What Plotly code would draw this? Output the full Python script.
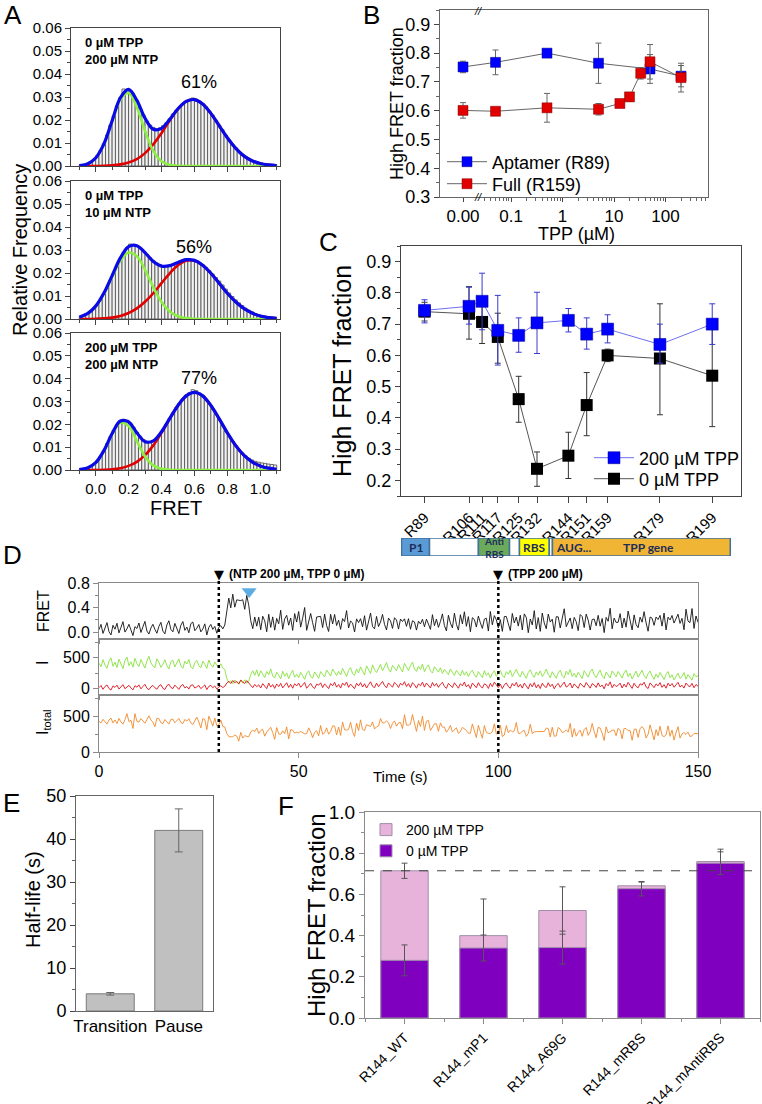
import plotly.graph_objects as go

W, H = 762, 1104
FONT = "Liberation Sans, Arial, sans-serif"
AX = "#444444"

# ------------------------------------------------------------------ Panel A data
a_cond = ["0 µM TPP<br>200 µM NTP", "0 µM TPP<br>10 µM NTP", "200 µM TPP<br>200 µM NTP"]
a_pct = ["61%", "56%", "77%"]
a_pct_pos = [(0.63, 0.0365), (0.60, 0.0313), (0.63, 0.0403)]
hist_x = [round(-0.09 + 0.02 * i, 2) for i in range(60)]
fit_x = [round(-0.10 + 0.05 * i, 2) for i in range(25)]

hist_a1 = [0.0005, 0.0008, 0.0012, 0.0018, 0.0028, 0.0045, 0.0068, 0.0098, 0.0135, 0.0178,
           0.0218, 0.0262, 0.0298, 0.0335, 0.0332, 0.0322, 0.0305, 0.0284, 0.0251, 0.0222,
           0.0196, 0.0178, 0.0168, 0.0160, 0.0166, 0.0175, 0.0188, 0.0205, 0.0226, 0.0242,
           0.0256, 0.0268, 0.0279, 0.0287, 0.0296, 0.0291, 0.0281, 0.0272, 0.0258, 0.0238,
           0.0221, 0.0199, 0.0178, 0.0158, 0.0134, 0.0113, 0.0094, 0.0080, 0.0064, 0.0050,
           0.0040, 0.0031, 0.0024, 0.0019, 0.0014, 0.0011, 0.0008, 0.0006, 0.0005, 0.0004]
hist_a2 = [0.0010, 0.0016, 0.0024, 0.0034, 0.0047, 0.0062, 0.0081, 0.0108, 0.0137, 0.0168,
           0.0198, 0.0232, 0.0262, 0.0289, 0.0310, 0.0326, 0.0322, 0.0316, 0.0308, 0.0294,
           0.0281, 0.0267, 0.0255, 0.0244, 0.0236, 0.0231, 0.0229, 0.0232, 0.0238, 0.0243,
           0.0251, 0.0257, 0.0262, 0.0259, 0.0255, 0.0252, 0.0243, 0.0236, 0.0224, 0.0210,
           0.0196, 0.0180, 0.0165, 0.0148, 0.0130, 0.0113, 0.0098, 0.0083, 0.0070, 0.0058,
           0.0047, 0.0038, 0.0031, 0.0024, 0.0018, 0.0014, 0.0011, 0.0008, 0.0006, 0.0004]
hist_a3 = [0.0003, 0.0005, 0.0009, 0.0015, 0.0024, 0.0040, 0.0061, 0.0086, 0.0116, 0.0146,
           0.0174, 0.0197, 0.0213, 0.0222, 0.0218, 0.0206, 0.0187, 0.0166, 0.0148, 0.0134,
           0.0126, 0.0122, 0.0128, 0.0139, 0.0156, 0.0178, 0.0201, 0.0226, 0.0250, 0.0273,
           0.0294, 0.0313, 0.0328, 0.0338, 0.0352, 0.0348, 0.0337, 0.0328, 0.0309, 0.0289,
           0.0267, 0.0243, 0.0218, 0.0194, 0.0170, 0.0148, 0.0127, 0.0108, 0.0090, 0.0075,
           0.0062, 0.0052, 0.0044, 0.0038, 0.0034, 0.0031, 0.0029, 0.0026, 0.0024, 0.0022]

low_a1 = [0.0002, 0.0009, 0.0035, 0.0095, 0.0194, 0.0290, 0.0318, 0.0256, 0.0152, 0.0066, 0.0021, 0.0005,
          0.0001, 0, 0, 0, 0, 0, 0, 0, 0, 0, 0, 0, 0]
high_a1 = [0, 0, 0, 0.0001, 0.0003, 0.0007, 0.0015, 0.0030, 0.0056, 0.0094, 0.0143, 0.0198, 0.0248,
           0.0281, 0.0289, 0.0270, 0.0229, 0.0176, 0.0123, 0.0078, 0.0044, 0.0023, 0.0011, 0.0005, 0.0002]
low_a2 = [0.0008, 0.0023, 0.0055, 0.0110, 0.0183, 0.0253, 0.0289, 0.0273, 0.0214, 0.0138, 0.0074, 0.0033,
          0.0012, 0.0004, 0.0001, 0, 0, 0, 0, 0, 0, 0, 0, 0, 0]
high_a2 = [0, 0, 0.0001, 0.0003, 0.0006, 0.0013, 0.0026, 0.0046, 0.0075, 0.0112, 0.0156, 0.0199, 0.0234,
           0.0254, 0.0254, 0.0234, 0.0199, 0.0156, 0.0112, 0.0075, 0.0046, 0.0026, 0.0013, 0.0006, 0.0003]
low_a3 = [0.0002, 0.0009, 0.0032, 0.0084, 0.0157, 0.0207, 0.0193, 0.0127, 0.0059, 0.0020, 0.0005, 0.0001,
          0, 0, 0, 0, 0, 0, 0, 0, 0, 0, 0, 0, 0]
high_a3 = [0, 0, 0, 0.0001, 0.0003, 0.0008, 0.0018, 0.0036, 0.0065, 0.0108, 0.0163, 0.0225, 0.0283,
           0.0325, 0.0340, 0.0325, 0.0283, 0.0225, 0.0163, 0.0108, 0.0065, 0.0036, 0.0018, 0.0008, 0.0003]

# ------------------------------------------------------------------ Panel B data
b_zero_pos = 0.0117         # where "0.00" sits on the broken log axis
tpp_apt = [0, 0.05, 0.5, 5, 50, 200]
hf_apt = [0.752, 0.768, 0.800, 0.765, 0.745, 0.720]
err_apt = [0.020, 0.043, 0.0, 0.070, 0.050, 0.037]
tpp_full = [0, 0.05, 0.5, 5, 13, 20, 33, 50, 200]
hf_full = [0.601, 0.598, 0.610, 0.605, 0.625, 0.648, 0.730, 0.770, 0.715]
err_full = [0.027, 0.012, 0.050, 0.020, 0.010, 0.015, 0.020, 0.060, 0.050]

# ------------------------------------------------------------------ Panel C data
c_len = [89, 106, 111, 117, 125, 132, 144, 151, 159, 179, 199]
c_names = ["R89", "R106", "R111", "R117", "R125", "R132", "R144", "R151", "R159", "R179", "R199"]
hf_200 = [0.744, 0.757, 0.773, 0.680, 0.664, 0.704, 0.712, 0.668, 0.684, 0.635, 0.700]
hi_200 = [0.778, 0.818, 0.863, 0.792, 0.720, 0.802, 0.750, 0.720, 0.730, 0.700, 0.765]
lo_200 = [0.704, 0.700, 0.682, 0.569, 0.610, 0.606, 0.675, 0.620, 0.640, 0.575, 0.635]
hf_0 = [0.740, 0.733, 0.707, 0.659, 0.460, 0.237, 0.279, 0.441, 0.600, 0.590, 0.535]
hi_0 = [0.770, 0.820, 0.770, 0.735, 0.533, 0.291, 0.354, 0.545, 0.620, 0.765, 0.700]
lo_0 = [0.710, 0.652, 0.638, 0.575, 0.386, 0.181, 0.206, 0.343, 0.580, 0.410, 0.372]

seg_label = ["P1", "", "Anti<br>RBS", "", "RBS", "", "AUG...&nbsp;&nbsp;&nbsp;&nbsp;&nbsp;&nbsp;&nbsp;&nbsp;&nbsp;&nbsp;&nbsp;TPP gene"]
seg_start = [80.2, 90.9, 109.6, 121.5, 125.3, 136.7, 137.9]
seg_end = [90.9, 109.6, 121.5, 125.3, 136.7, 137.9, 205.9]
seg_color = ["#5B9BD5", "#FFFFFF", "#6AAA5A", "#FFFFFF", "#FFFF00", "#FFFFFF", "#F0B534"]

# ------------------------------------------------------------------ Panel D data (0.5 s frames)
frame_dt = 0.5
green_d = [
    412, 355, 468, 381, 330, 445, 497, 362, 428, 341,
    476, 389, 323, 452, 510, 371, 434, 348, 489, 402,
    357, 471, 396, 332, 447, 523, 418, 365, 339, 482,
    426, 344, 391, 468, 373, 318, 437, 459, 352, 415,
    481, 367, 329, 443, 398, 472, 351, 322, 420, 458,
    369, 336, 445, 392, 327, 463, 384, 346, 431, 375,
    352, 401, 338, 310, 168, 97, 128, 82, 141, 106,
    73, 134, 92, 145, 88, 121, 228, 291, 216, 304,
    197, 289, 236, 181, 278, 223, 320, 205, 172, 266,
    219, 158, 283, 201, 256, 163, 242, 297, 186, 233,
    179, 265, 208, 152, 249, 288, 196, 170, 271, 225,
    168, 276, 231, 190, 302, 247, 204, 318, 259, 213,
    281, 222, 327, 258, 199, 296, 341, 243, 217, 318,
    254, 352, 287, 221, 369, 298, 246, 384, 305, 262,
    331, 392, 289, 358, 421, 316, 268, 377, 334, 290,
    388, 326, 271, 409, 342, 293, 371, 428, 318, 279,
    362, 309, 397, 276, 341, 385, 287, 253, 354, 311,
    268, 337, 245, 312, 272, 229, 318, 262, 214, 297,
    251, 206, 298, 219, 274, 197, 262, 301, 223, 185,
    276, 228, 181, 292, 214, 257, 173, 248, 289, 202,
    241, 297, 214, 178, 276, 233, 301, 196, 253, 312,
    236, 189, 281, 214, 167, 262, 305, 228, 183, 271,
    219, 288, 196, 245, 317, 232, 176, 274, 221, 169,
    258, 299, 207, 175, 283, 231, 309, 197, 249, 184,
    265, 218, 164, 291, 243, 187, 272, 318, 226, 179,
    251, 302, 205, 163, 268, 221, 174, 287, 238, 192,
    279, 213, 172, 256, 301, 196, 248, 158, 227, 284,
    189, 249, 298, 211, 166, 243, 286, 203, 151, 237,
    182, 263, 209, 148, 231, 277, 176, 224, 143, 208,
    251, 167, 196, 262, 154, 228, 183, 139, 244, 192,
    214]
red_d = [
    18, 52, -9, 37, 61, 4, -21, 46, 22, 58,
    -5, 33, 67, 1, 29, 55, 12, -18, 49, 26,
    63, -2, 38, 71, 9, -15, 31, 54, 16, -8,
    44, 66, 7, -12, 50, 73, 21, 3, 59, 28,
    -10, 47, 69, 14, 36, -4, 57, 64, 11, 32,
    53, 2, 25, 62, -14, 39, 56, 17, 45, -6,
    30, 48, 19, 41, 92, 121, 84, 133, 97, 118,
    79, 142, 103, 86, 131, 94, 52, 18, 71, 33,
    64, 12, 83, 41, 2, 92, 27, 68, 6, 77,
    35, 88, 14, 56, 97, 21, 73, 9, 81, 46,
    91, 24, 62, 102, 8, 51, 86, 31, 4, 74,
    58, 96, 19, 79, 37, 3, 84, 49, 105, 26,
    69, 11, 93, 54, 108, 22, 76, 43, 1, 88,
    47, 99, 28, 81, 13, 66, 112, 39, 18, 91,
    33, 78, 118, 52, 16, 94, 61, 25, 103, 72,
    21, 89, 57, 114, 36, 83, 19, 98, 64, 10,
    79, 48, 106, 27, 92, 59, 14, 101, 42, 85,
    23, 71, 104, 38, 6, 87, 55, 20, 96, 44,
    9, 82, 47, 109, 29, 67, 2, 93, 58, 17,
    98, 41, 12, 79, 63, 5, 88, 34, 107, 51,
    18, 76, 3, 61, 95, 37, 8, 86, 45, 102,
    26, 72, 11, 91, 53, -2, 84, 31, 99, 15,
    68, 4, 89, 43, 19, 97, 35, 74, 0, 57,
    86, 22, 65, 108, 28, 49, 93, 12, 79, 38,
    7, 88, 56, 24, 101, 46, 10, 83, 62, 21,
    95, 33, 59, -1, 85, 48, 111, 17, 71, 36,
    54, 92, 13, 76, 27, 103, 52, 6, 89, 40,
    15, 81, 58, 106, 30, 4, 94, 60, 19, 78,
    47, 99, 23, 67, 9, 90, 44, 84, 25, 63,
    104, 28, 57, 11, 92, 50, 34, 87, 16, 69,
    41]
event_t = [30, 100]
event_txt = ["(NTP 200 µM, TPP 0 µM)", "(TPP 200 µM)"]
pause_t = [37.6]
pause_y = [0.66]

# ------------------------------------------------------------------ Panel E data
e_cats = ["Transition", "Pause"]
half_life = [4.0, 42.0]
half_err = [0.3, 5.0]

# ------------------------------------------------------------------ Panel F data
f_cats = ["R144_WT", "R144_mP1", "R144_A69G", "R144_mRBS", "R144_mAntiRBS"]
f_200 = [0.715, 0.400, 0.522, 0.642, 0.760]
f_200_err = [0.037, 0.178, 0.115, 0.018, 0.060]
f_0 = [0.280, 0.340, 0.342, 0.628, 0.752]
f_0_err = [0.075, 0.063, 0.080, 0.035, 0.055]

# ================================================================== helpers
layout = dict(template="none", width=W, height=H, margin=dict(l=0, r=0, t=0, b=0, autoexpand=False),
              paper_bgcolor="white", plot_bgcolor="white",
              font=dict(family=FONT, color="black"), barmode="overlay",
              hovermode=False, showlegend=True)
traces = []
annotations = []
shapes = []


def ax(**kw):
    d = dict(showline=True, mirror=True, linecolor=AX, linewidth=1, ticks="outside",
             ticklen=5, tickwidth=1, tickcolor=AX, showgrid=False, zeroline=False, automargin=False,
             tickfont=dict(size=15, color="black"))
    d.update(kw)
    return d


def set_axes(n, xdom, ydom, xa, ya):
    xs = "xaxis" if n == 1 else f"xaxis{n}"
    ys = "yaxis" if n == 1 else f"yaxis{n}"
    xr = "x" if n == 1 else f"x{n}"
    yr = "y" if n == 1 else f"y{n}"
    layout[xs] = dict(domain=[xdom[0] / W, xdom[1] / W], anchor=yr, **xa)
    layout[ys] = dict(domain=[1 - ydom[1] / H, 1 - ydom[0] / H], anchor=xr, **ya)
    return xr, yr


def pann(text, px, py, size, xanchor="center", yanchor="middle", angle=0, **kw):
    annotations.append(dict(text=text, x=px / W, y=1 - py / H, xref="paper", yref="paper",
                            showarrow=False, xanchor=xanchor, yanchor=yanchor, textangle=angle,
                            font=dict(size=size, family=kw.pop("family", FONT), color=kw.pop("color", "black")), **kw))


def one_legend(name, px, py, size):
    layout[name] = dict(x=px / W, y=1 - py / H, xanchor="left", yanchor="middle", bgcolor="rgba(0,0,0,0)",
                        font=dict(size=size), itemwidth=40, tracegroupgap=0)


# ================================================================== Panel A
a_hist = [hist_a1, hist_a2, hist_a3]
a_low = [low_a1, low_a2, low_a3]
a_high = [high_a1, high_a2, high_a3]
a_ydom = [(28, 166), (181, 319), (333, 470)]
for i in range(3):
    xr, yr = set_axes(
        i + 1, (71, 280), a_ydom[i],
        ax(range=[-0.15, 1.12], tickvals=[0, 0.2, 0.4, 0.6, 0.8, 1.0], tickformat=".1f",
           showticklabels=(i == 2), tickfont=dict(size=15),
           minor=dict(ticks="outside", ticklen=3, tick0=0, dtick=0.1, tickcolor=AX)),
        ax(range=[0, 0.06005], tickvals=[0, 0.01, 0.02, 0.03, 0.04, 0.05, 0.06], tickformat=".2f",
           tickfont=dict(size=15),
           minor=dict(ticks="outside", ticklen=3, tick0=0, dtick=0.005, tickcolor=AX)))
    traces.append(go.Bar(x=hist_x, y=a_hist[i], width=0.02, xaxis=xr, yaxis=yr, showlegend=False,
                         marker=dict(color="#F2F2F2", line=dict(color="#4a4a4a", width=0.8))))
    traces.append(go.Scatter(x=fit_x, y=a_high[i], mode="lines", line=dict(color="#E00000", width=2.6, shape="spline"),
                             xaxis=xr, yaxis=yr, showlegend=False))
    traces.append(go.Scatter(x=fit_x, y=a_low[i], mode="lines", line=dict(color="#8CF040", width=2.6, shape="spline"),
                             xaxis=xr, yaxis=yr, showlegend=False))
    total = [a + b for a, b in zip(a_low[i], a_high[i])]
    traces.append(go.Scatter(x=fit_x, y=total, mode="lines", line=dict(color="#0A0AE6", width=3.2, shape="spline"),
                             xaxis=xr, yaxis=yr, showlegend=False))
    annotations.append(dict(text="<b>" + a_cond[i] + "</b>", x=-0.08, y=1 - (a_ydom[i][0] + 5) / H,
                            xref=xr, yref="paper", showarrow=False, xanchor="left", yanchor="top",
                            align="left", font=dict(size=13, family=FONT)))
    annotations.append(dict(text=a_pct[i], x=a_pct_pos[i][0], y=a_pct_pos[i][1], xref=xr, yref=yr,
                            showarrow=False, font=dict(size=18, family=FONT)))

pann("Relative Frequency", 20, 250, 20, angle=-90)
pann("FRET", 176, 508, 20)
pann("A", 13, 15, 26)

# ================================================================== Panel B
b_minor = [m * 10 ** e for e in (-2, -1, 0, 1, 2) for m in range(2, 10)]
b_minor = [v for v in b_minor if 0.03 <= v <= 600]
xr, yr = set_axes(
    4, (440, 708), (10, 197),
    ax(type="log", range=[-2.379, 2.825], tickvals=[b_zero_pos, 0.1, 1, 10, 100],
       ticktext=["0.00", "0.1", "1", "10", "100"], tickfont=dict(size=17), linecolor="#666", ticklen=4,
       minor=dict(ticks="outside", ticklen=2.5, tickvals=b_minor, tickcolor="#666")),
    ax(range=[0.3, 0.95], tickvals=[0.3, 0.4, 0.5, 0.6, 0.7, 0.8, 0.9], tickformat=".1f",
       tickfont=dict(size=18), linecolor="#666",
       minor=dict(ticks="outside", ticklen=3, tick0=0.3, dtick=0.05, tickcolor="#666")))
bx_apt = [b_zero_pos if v == 0 else v for v in tpp_apt]
bx_full = [b_zero_pos if v == 0 else v for v in tpp_full]
traces.append(go.Scatter(x=bx_apt, y=hf_apt, mode="lines+markers", name="Aptamer (R89)",
                         line=dict(color="#666", width=1),
                         marker=dict(symbol="square", size=10, color="#0000FF", line=dict(color="#000080", width=0.5)),
                         error_y=dict(type="data", array=err_apt, color="#666", thickness=1, width=3),
                         xaxis=xr, yaxis=yr, legend="legend"))
traces.append(go.Scatter(x=bx_full, y=hf_full, mode="lines+markers", name="Full (R159)",
                         line=dict(color="#666", width=1),
                         marker=dict(symbol="square", size=10, color="#E00000", line=dict(color="#800000", width=0.5)),
                         error_y=dict(type="data", array=err_full, color="#666", thickness=1, width=3),
                         xaxis=xr, yaxis=yr, legend="legend4"))
one_legend("legend", 442, 162, 18)
one_legend("legend4", 442, 184, 18)
pann("<i>//</i>", 478, 11, 11)
pann("<i>//</i>", 478, 197, 11)
pann("High FRET fraction", 397, 104, 18, angle=-90)
pann("TPP (µM)", 576, 234, 18)
pann("B", 371, 15, 26)

# ================================================================== Panel C
xr, yr = set_axes(
    5, (401, 741), (246, 496),
    ax(range=[80, 210], tickvals=c_len, ticktext=c_names, tickangle=-45, tickfont=dict(size=15), ticklen=6),
    ax(range=[0.15, 0.95], tickvals=[0.2, 0.3, 0.4, 0.5, 0.6, 0.7, 0.8, 0.9], tickformat=".1f",
       tickfont=dict(size=18), minor=dict(ticks="outside", ticklen=3, tick0=0.15, dtick=0.05, tickcolor=AX)))
traces.append(go.Scatter(x=c_len, y=hf_0, mode="lines+markers", name="0 µM TPP",
                         line=dict(color="#555", width=1),
                         marker=dict(symbol="square", size=12, color="#000000"),
                         error_y=dict(type="data", array=[h - v for h, v in zip(hi_0, hf_0)],
                                      arrayminus=[v - l for v, l in zip(hf_0, lo_0)],
                                      color="#333", thickness=1, width=3),
                         xaxis=xr, yaxis=yr, legend="legend5"))
traces.append(go.Scatter(x=c_len, y=hf_200, mode="lines+markers", name="200 µM TPP",
                         line=dict(color="#6F6FF0", width=1),
                         marker=dict(symbol="square", size=12, color="#0000FF", line=dict(color="#000090", width=0.5)),
                         error_y=dict(type="data", array=[h - v for h, v in zip(hi_200, hf_200)],
                                      arrayminus=[v - l for v, l in zip(hf_200, lo_200)],
                                      color="#3A3AD0", thickness=1, width=3),
                         xaxis=xr, yaxis=yr, legend="legend2"))
one_legend("legend2", 589, 458, 18)
one_legend("legend5", 589, 479, 18)
pann("High FRET fraction", 342, 371, 25, angle=-90)
pann("C", 328, 242, 26)

# gene schematic
xr, yr = set_axes(6, (401, 741), (538, 556),
                  dict(range=[80, 210], visible=False), dict(range=[0, 1], visible=False))
traces.append(go.Bar(y=[0.5] * len(seg_start), x=[e - s for s, e in zip(seg_start, seg_end)], base=seg_start,
                     orientation="h", width=1, marker=dict(color=seg_color, line=dict(color="#41719C", width=1.5)),
                     xaxis=xr, yaxis=yr, showlegend=False))
for s, e, lab in zip(seg_start, seg_end, seg_label):
    if not lab:
        continue
    if lab.startswith("AUG"):
        annotations.append(dict(text="<b>" + lab + "</b>", x=s, y=0.5, xref=xr, yref=yr, showarrow=False,
                                xanchor="left", xshift=2, font=dict(size=12, family="Lato", color="#1F2D5A")))
    else:
        annotations.append(dict(text="<b>" + lab + "</b>", x=(s + e) / 2, y=0.5, xref=xr, yref=yr, showarrow=False,
                                font=dict(size=12 if "<br>" not in lab else 10, family="Lato", color="#1F2D5A")))

# ================================================================== Panel D
t_d = [frame_dt * i for i in range(len(green_d))]
fret_d = [r / (g + r) for g, r in zip(green_d, red_d)]
total_d = [g + r for g, r in zip(green_d, red_d)]
DL = "#8a8a8a"
xr7, yr7 = set_axes(7, (99, 698), (583, 639),
                    ax(range=[0, 150], tickvals=[0, 50, 100, 150], showticklabels=False, linecolor=DL, ticklen=4, tickcolor=DL),
                    ax(range=[-0.11, 0.8], tickvals=[0, 0.4, 0.8], tickformat=".1f", linecolor=DL, tickcolor=DL,
                       tickfont=dict(size=16), minor=dict(ticks="outside", ticklen=3, tickvals=[0.2, 0.6], tickcolor=DL)))
xr8, yr8 = set_axes(8, (99, 698), (639, 695),
                    ax(range=[0, 150], tickvals=[0, 50, 100, 150], showticklabels=False, linecolor=DL, ticklen=4, tickcolor=DL),
                    ax(range=[-100, 800], tickvals=[0, 500], linecolor=DL, tickcolor=DL, tickfont=dict(size=16),
                       minor=dict(ticks="outside", ticklen=3, tickvals=[250, 750], tickcolor=DL)))
xr9, yr9 = set_axes(9, (99, 698), (695, 752),
                    ax(range=[0, 150], tickvals=[0, 50, 100, 150], linecolor=DL, tickcolor=DL, tickfont=dict(size=16)),
                    ax(range=[0, 800], tickvals=[0, 500], linecolor=DL, tickcolor=DL, tickfont=dict(size=16),
                       minor=dict(ticks="outside", ticklen=3, tickvals=[250, 750], tickcolor=DL)))
traces.append(go.Scatter(x=t_d, y=fret_d, mode="lines", line=dict(color="#111", width=0.9),
                         xaxis=xr7, yaxis=yr7, showlegend=False))
traces.append(go.Scatter(x=pause_t, y=pause_y, mode="markers",
                         marker=dict(symbol="triangle-down", size=13, color="#5DADE2"),
                         xaxis=xr7, yaxis=yr7, showlegend=False))
traces.append(go.Scatter(x=t_d, y=green_d, mode="lines", line=dict(color="#86E23C", width=0.9),
                         xaxis=xr8, yaxis=yr8, showlegend=False))
traces.append(go.Scatter(x=t_d, y=red_d, mode="lines", line=dict(color="#E0101A", width=0.9),
                         xaxis=xr8, yaxis=yr8, showlegend=False))
traces.append(go.Scatter(x=t_d, y=total_d, mode="lines", line=dict(color="#F0892A", width=0.9),
                         xaxis=xr9, yaxis=yr9, showlegend=False))
for t, txt in zip(event_t, event_txt):
    shapes.append(dict(type="line", xref=xr9, yref="paper", x0=t, x1=t, y0=1 - 752 / H, y1=1 - 578 / H,
                       line=dict(color="black", width=2.5, dash="dot")))
    annotations.append(dict(text="▼", x=t, y=1 - 574 / H, xref=xr9, yref="paper", showarrow=False,
                            font=dict(size=13, family="DejaVu Sans")))
    annotations.append(dict(text="<b>" + txt + "</b>", x=t, y=1 - 574 / H, xref=xr9, yref="paper",
                            showarrow=False, xanchor="left", xshift=8, font=dict(size=12, family=FONT)))
pann("FRET", 43, 611, 16, angle=-90)
pann("I", 43, 663, 16, angle=-90)
pann("I<sub>total</sub>", 43, 722, 16, angle=-90)
pann("Time (s)", 400, 776, 15)
pann("D", 12, 555, 26)

# ================================================================== Panel E
xr, yr = set_axes(10, (76, 213), (796, 1011),
                  ax(type="category", ticks="", tickfont=dict(size=17), linecolor="#666"),
                  ax(range=[0, 50], tickvals=[0, 10, 20, 30, 40, 50], tickfont=dict(size=18), linecolor="#666",
                     minor=dict(ticks="outside", ticklen=3, tick0=0, dtick=5, tickcolor="#666")))
traces.append(go.Bar(x=e_cats, y=half_life, width=0.7, xaxis=xr, yaxis=yr, showlegend=False,
                     marker=dict(color="#C0C0C0", line=dict(color="#7a7a7a", width=1)),
                     error_y=dict(type="data", array=half_err, color="#666", thickness=1, width=4)))
pann("Half-life (s)", 33, 900, 20, angle=-90)
pann("E", 11, 803, 26)

# ================================================================== Panel F
f_pos = list(range(len(f_cats)))
FL = "#8a8a8a"
xr, yr = set_axes(11, (365, 760), (812, 1018),
                  ax(range=[-0.5, 4.5], tickvals=f_pos, ticktext=f_cats, tickangle=-45, tickfont=dict(size=14),
                     linecolor=FL, tickcolor=FL,
                     minor=dict(ticks="outside", ticklen=3, tick0=0.5, dtick=1, tickcolor=FL)),
                  ax(range=[0, 1.0005], tickvals=[0, 0.2, 0.4, 0.6, 0.8, 1.0], tickformat=".1f", tickfont=dict(size=19),
                     linecolor=FL, tickcolor=FL,
                     minor=dict(ticks="outside", ticklen=3, tick0=0, dtick=0.1, tickcolor=FL)))
traces.append(go.Bar(x=f_pos, y=f_200, width=0.6, name="200 µM TPP", xaxis=xr, yaxis=yr, legend="legend3",
                     marker=dict(color="#E8B3DB", line=dict(color="#9F8FA8", width=1)),
                     error_y=dict(type="data", array=f_200_err, color="#555", thickness=1, width=3)))
traces.append(go.Bar(x=f_pos, y=f_0, width=0.6, name="0 µM TPP", xaxis=xr, yaxis=yr, legend="legend3",
                     marker=dict(color="#8000C0", line=dict(color="#9F8FA8", width=1)),
                     error_y=dict(type="data", array=f_0_err, color="#555", thickness=1, width=3)))
shapes.append(dict(type="line", xref=xr + " domain", yref=yr, x0=0, x1=1, y0=f_200[0], y1=f_200[0],
                   line=dict(color="#444", width=1, dash="dash")))
layout["legend3"] = dict(x=366 / W, y=1 - 814 / H, xanchor="left", yanchor="top", bgcolor="rgba(0,0,0,0)",
                         font=dict(size=14), tracegroupgap=0)
pann("High FRET fraction", 316, 915, 24, angle=-90)
pann("F", 286, 806, 26)

layout["annotations"] = annotations
layout["shapes"] = shapes
fig = go.Figure(data=traces, layout=layout)
fig.write_html("out.html", config={"displayModeBar": False},
               post_script="document.body.style.margin='0px';")
